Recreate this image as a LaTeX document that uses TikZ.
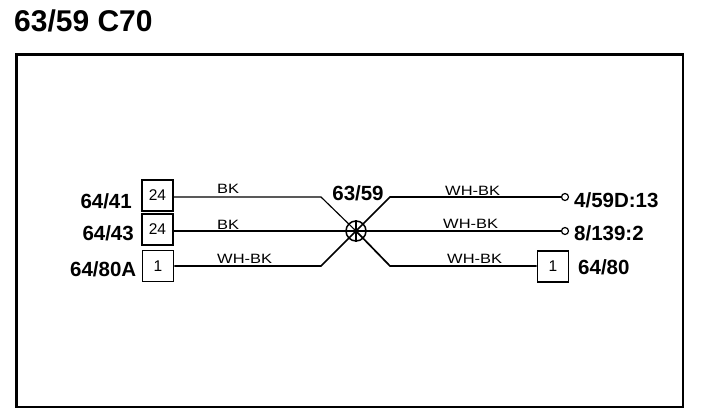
\documentclass[tikz,border=0pt]{standalone}
\usepackage{fontspec}
\setmainfont{Liberation Sans}
\newfontfamily\wirefont[FakeStretch=1.22]{Liberation Sans}
\begin{document}
\begin{tikzpicture}[x=1pt,y=-1pt,
  titletext/.style={font=\fontsize{30}{32}\selectfont\bfseries, inner sep=0},
  conlabel/.style={font=\fontsize{20.5}{22}\selectfont\bfseries, inner sep=0},
  wirelabel/.style={font=\wirefont\fontsize{13.5}{15}\selectfont, inner sep=0, anchor=base west},
  pinbox/.style={draw, line width=1.8pt, minimum width=31pt, minimum height=31pt, inner sep=0, font=\fontsize{15.5}{16}\selectfont},
  wire/.style={line width=1.7pt},
  thinwire/.style={line width=1.15pt},
  term/.style={circle, draw, line width=1.2pt, minimum size=7pt, inner sep=0},
  splice/.style={circle, draw, line width=1.5pt, minimum size=20pt, inner sep=0},
  framebox/.style={draw, line width=2.6pt, inner sep=0, anchor=north west}
]
\useasboundingbox (0,0) rectangle (704,420);
\node[titletext, anchor=base west] (title) at (14,32) {63/59 C70};
\node[framebox, minimum width=666.5pt, minimum height=352.5pt] (frame) at (15,53) {};

% left connectors
\node[pinbox] (b1) at (157.5,195.5) {24};
\node[pinbox] (b2) at (157.5,229.5) {24};
\node[pinbox] (b3) at (158,266) {1};
\node[conlabel, anchor=base east] (l1) at (132,208) {64/41};
\node[conlabel, anchor=base east] (l2) at (134,240) {64/43};
\node[conlabel, anchor=base east] (l3) at (136.5,276) {64/80A};

% splice
\node[splice] (sp) at (356,231) {};
\draw[line width=1.2pt] (sp.north) -- (sp.south);
\node[conlabel, anchor=base] (spl) at (358,200) {63/59};

% bends
\coordinate (a1) at (321,197);
\coordinate (a3) at (321,266);
\coordinate (c1) at (390,197);
\coordinate (c3) at (390,266);

% right side
\node[term] (t1) at (565,197) {};
\node[term] (t2) at (565,231) {};
\node[pinbox] (b4) at (553,266.5) {1};
\node[conlabel, anchor=base west] (r1) at (574,207) {4/59D:13};
\node[conlabel, anchor=base west] (r2) at (574,240) {8/139:2};
\node[conlabel, anchor=base west] (r3) at (578,274) {64/80};

% wires
\draw[thinwire] (b1.east |- a1) -- (a1) -- (sp.center);
\draw[wire] (b2.east |- sp.center) -- (sp.center);
\draw[wire] (b3.east |- a3) -- (a3) -- (sp.center);
\draw[wire] (sp.center) -- (c1) -- (t1.west);
\draw[wire] (sp.center) -- (t2.west);
\draw[wire] (sp.center) -- (c3) -- (b4.west |- c3);

% wire labels
\node[wirelabel] (w1) at (217,193) {BK};
\node[wirelabel] (w2) at (217,229) {BK};
\node[wirelabel] (w3) at (217,263) {WH-BK};
\node[wirelabel] (w4) at (445,195) {WH-BK};
\node[wirelabel] (w5) at (443,228) {WH-BK};
\node[wirelabel] (w6) at (447,263) {WH-BK};
\end{tikzpicture}
\end{document}
